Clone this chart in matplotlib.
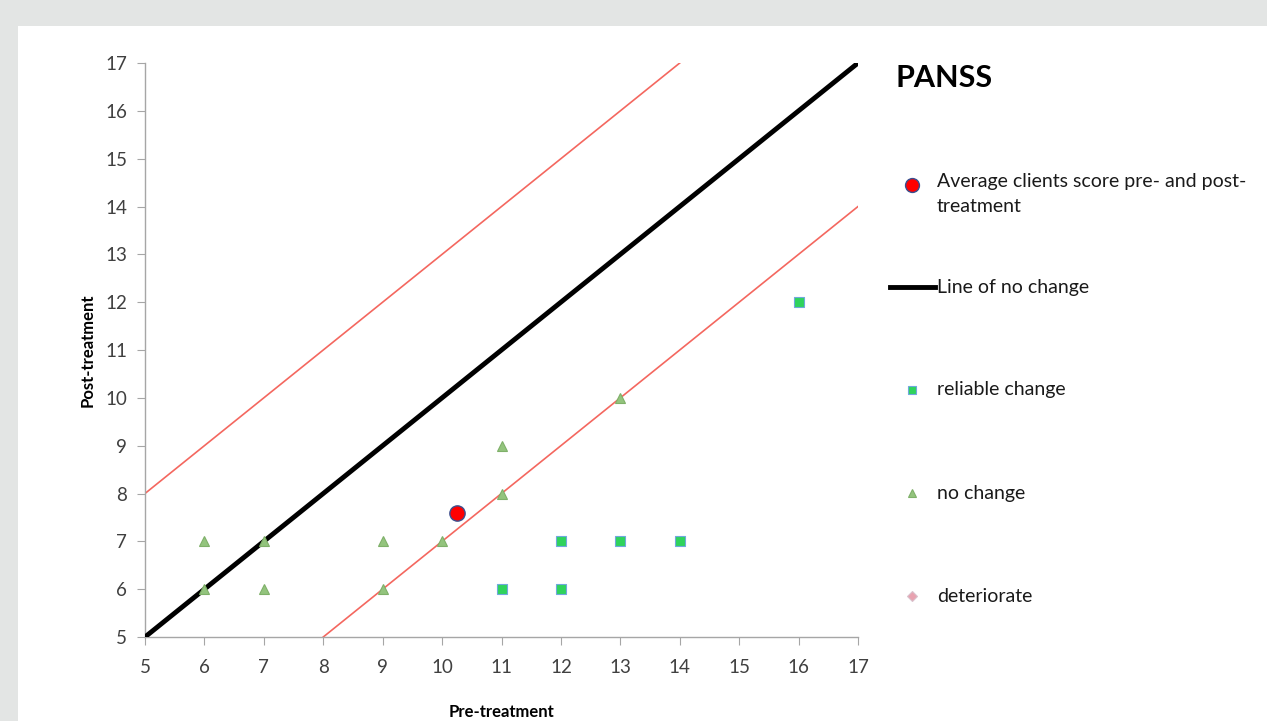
import matplotlib.pyplot as plt
from matplotlib.patches import Rectangle

plt.rcParams['font.family'] = ['Lato', 'DejaVu Sans']

# ------------------------------ dane ------------------------------
reliable_pre = [16, 12, 13, 14, 11, 12]
reliable_post = [12, 7, 7, 7, 6, 6]

nochange_pre = [6, 6, 7, 7, 9, 9, 10, 11, 11, 13]
nochange_post = [7, 6, 7, 6, 7, 6, 7, 9, 8, 10]

avg_pre = [10.25]
avg_post = [7.6]

line_x = [5, 17]
line_no_change = [5, 17]
upper_x = [5, 14]
upper_y = [8, 17]
lower_x = [8, 17]
lower_y = [5, 14]

ticks = list(range(5, 18))

legend_labels = [
    "Average clients score pre- and post-\ntreatment",
    "Line of no change",
    "reliable change",
    "no change",
    "deteriorate",
]

# ------------------------------ rysunek ------------------------------
fig = plt.figure(figsize=(12.67, 7.21), dpi=100)
fig.patch.set_facecolor("#e3e5e4")
fig.patches.append(Rectangle((18 / 1267, 0), 1, 1 - 26 / 721,
                             transform=fig.transFigure, facecolor="white",
                             edgecolor="none", zorder=-5))

ax = fig.add_axes([145 / 1267, 1 - 637 / 721, 713 / 1267, 574 / 721])
ax.set_facecolor("none")
ax.set_zorder(2)

red = "#f4675f"
ax.plot(upper_x, upper_y, color=red, lw=1.2, zorder=2)
ax.plot(lower_x, lower_y, color=red, lw=1.2, zorder=2)
ax.plot(line_x, line_no_change, color="black", lw=3.5, zorder=3,
        solid_capstyle="butt")

ax.plot(reliable_pre, reliable_post, ls="none", marker="s", ms=6.5,
        mfc="#2fd35c", mec="#6fa8dc", mew=0.8, zorder=4)
ax.plot(nochange_pre, nochange_post, ls="none", marker="^", ms=7.5,
        mfc="#93c47d", mec="#7fb069", mew=0.8, zorder=4)
ax.plot(avg_pre, avg_post, ls="none", marker="o", ms=11,
        mfc="#ff0000", mec="#3a4f8f", mew=1.0, zorder=5)

ax.set_xlim(5, 17)
ax.set_ylim(5, 17)
ax.set_xticks(ticks)
ax.set_yticks(ticks)

for side in ["top", "right"]:
    ax.spines[side].set_visible(False)
for side in ["left", "bottom"]:
    ax.spines[side].set_color("#a6a6a6")
    ax.spines[side].set_linewidth(1.0)

ax.tick_params(axis="both", direction="out", color="#a6a6a6", length=6,
               labelsize=13.5, labelcolor="#404040")
ax.tick_params(axis="x", pad=10)
ax.tick_params(axis="y", pad=7)

ax.set_xlabel("Pre-treatment", fontsize=12, fontweight="bold", labelpad=20)
ax.set_ylabel("Post-treatment", fontsize=12, fontweight="bold", labelpad=7)

# tytuł i legenda po prawej
fig.text(895 / 1267, 1 - 78 / 721, "PANSS", fontsize=22, fontweight="bold",
         va="center", ha="left", color="black")

legend_y = [185, 287, 390, 493, 596]
tx = 937 / 1267
mx = 912 / 1267
text_kw = dict(fontsize=14, color="#1a1a1a", ha="left", transform=fig.transFigure)

fig.text(tx, 1 - 173 / 721, legend_labels[0], va="top", linespacing=1.55, **text_kw)
ax.plot([mx], [1 - legend_y[0] / 721], marker="o", ms=10, mfc="#ff0000",
        mec="#3a4f8f", mew=1.0, transform=fig.transFigure, clip_on=False)

ax.plot([890 / 1267, 935 / 1267], [1 - legend_y[1] / 721] * 2, color="black",
        lw=3.5, transform=fig.transFigure, clip_on=False)
fig.text(tx, 1 - legend_y[1] / 721, legend_labels[1], va="center", **text_kw)

ax.plot([mx], [1 - legend_y[2] / 721], marker="s", ms=5.5, mfc="#2fd35c",
        mec="#6fa8dc", mew=0.8, transform=fig.transFigure, clip_on=False)
fig.text(tx, 1 - legend_y[2] / 721, legend_labels[2], va="center", **text_kw)

ax.plot([mx], [1 - legend_y[3] / 721], marker="^", ms=6, mfc="#93c47d",
        mec="#7fb069", mew=0.8, transform=fig.transFigure, clip_on=False)
fig.text(tx, 1 - legend_y[3] / 721, legend_labels[3], va="center", **text_kw)

ax.plot([mx], [1 - legend_y[4] / 721], marker="D", ms=5, mfc="#e8a2b0",
        mec="#d9c2cc", mew=0.8, transform=fig.transFigure, clip_on=False)
fig.text(tx, 1 - legend_y[4] / 721, legend_labels[4], va="center", **text_kw)

fig.savefig("out.png", dpi=100, facecolor=fig.get_facecolor())
